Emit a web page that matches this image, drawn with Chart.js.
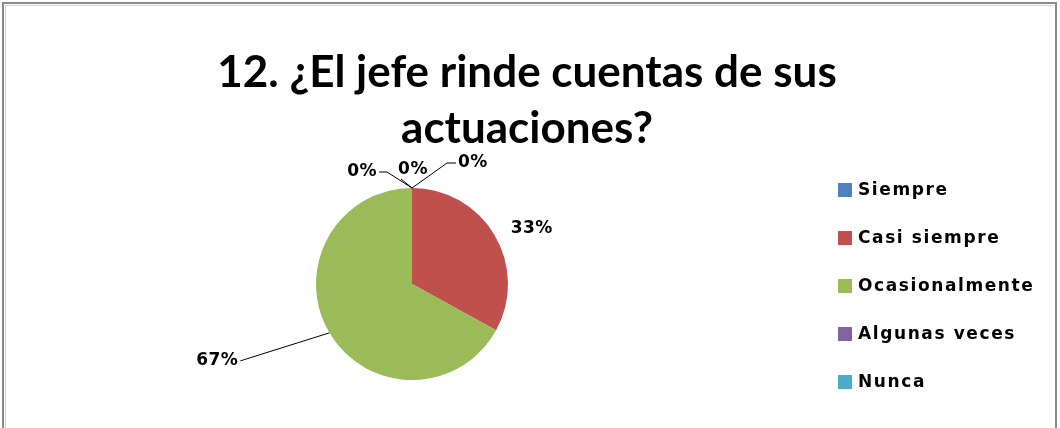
<!DOCTYPE html>
<html lang="es">
<head>
  <meta charset="UTF-8">
  <title>Rendición de cuentas</title>
  <script src="https://cdn.jsdelivr.net/npm/chart.js@4.4.1/dist/chart.umd.min.js"></script>
  <style>
    html, body { margin: 0; padding: 0; background: #fff; }
    canvas { display: block; }
  </style>
</head>
<body>
  <canvas id="pieChart" width="1060" height="428"></canvas>

  <script>
    // data
    const categories = ['Siempre', 'Casi siempre', 'Ocasionalmente', 'Algunas veces', 'Nunca'];
    const percents = [0, 33, 67, 0, 0];
    const sliceColors = ['#4F81BD', '#C0504D', '#9BBB59', '#8064A2', '#4BACC6'];
    const titleLines = ['12. ¿El jefe rinde cuentas de sus', 'actuaciones?'];

    // where each % label sits, relative to the point on the pie edge at the slice middle
    // [dx, dy, align, leader elbow dx, leader elbow dy]  (elbow relative to label point)
    const labelOffsets = [
      [44, -25, 'left', -9, 0],      // Siempre 0%
      [14, -7, 'left', null, null],  // Casi siempre
      [-89, 28, 'right', 0, 0],      // Ocasionalmente
      [-33, -16, 'right', 8, 0],     // Algunas veces 0%
      [1, -18, 'center', -12, 9]     // Nunca 0%
    ];

    const frame = {
      id: 'frame',
      beforeDraw(chart) {
        const { ctx } = chart;
        ctx.save();
        ctx.strokeStyle = '#8a8a8a';
        ctx.lineWidth = 2;
        ctx.beginPath();
        ctx.moveTo(3, 428);
        ctx.lineTo(3, 3);
        ctx.lineTo(1056, 3);
        ctx.lineTo(1056, 428);
        ctx.stroke();
        ctx.strokeStyle = '#d4d4d4';
        ctx.lineWidth = 1;
        ctx.beginPath();
        ctx.moveTo(5.5, 428);
        ctx.lineTo(5.5, 5.5);
        ctx.lineTo(1054, 5.5);
        ctx.stroke();

        // title
        ctx.fillStyle = '#000';
        ctx.font = 'bold 44px Lato';
        ctx.textAlign = 'center';
        ctx.textBaseline = 'alphabetic';
        ctx.fillText(titleLines[0], 527, 87);
        ctx.fillText(titleLines[1], 527, 143);
        ctx.restore();
      }
    };

    const sliceLabels = {
      id: 'sliceLabels',
      afterDatasetsDraw(chart) {
        const { ctx } = chart;
        const meta = chart.getDatasetMeta(0);
        ctx.save();
        ctx.font = 'bold 17px "DejaVu Sans"';
        ctx.letterSpacing = '0.5px';
        ctx.fillStyle = '#000';
        ctx.strokeStyle = '#000';
        ctx.lineWidth = 1;
        ctx.textBaseline = 'middle';
        meta.data.forEach((arc, i) => {
          const mid = (arc.startAngle + arc.endAngle) / 2;
          const ax = arc.x + Math.cos(mid) * arc.outerRadius;
          const ay = arc.y + Math.sin(mid) * arc.outerRadius;
          const [dx, dy, align, ex, ey] = labelOffsets[i];
          const lx = ax + dx;
          const ly = ay + dy;
          if (ex !== null) {
            ctx.beginPath();
            ctx.moveTo(ax, ay);
            ctx.lineTo(lx + ex, ly + ey);
            if (align !== 'center') ctx.lineTo(lx, ly);
            ctx.stroke();
          }
          ctx.textAlign = align;
          const tx = align === 'right' ? lx - 2 : align === 'left' ? lx + 2 : lx;
          ctx.fillText(percents[i] + '%', tx, ly);
        });
        ctx.restore();
      }
    };

    const sideLegend = {
      id: 'sideLegend',
      afterDraw(chart) {
        const { ctx } = chart;
        ctx.save();
        ctx.font = 'bold 17px "DejaVu Sans"';
        ctx.letterSpacing = '1.6px';
        ctx.textBaseline = 'middle';
        ctx.textAlign = 'left';
        categories.forEach((name, i) => {
          const y = 190 + i * 48;
          ctx.fillStyle = sliceColors[i];
          ctx.fillRect(838, y - 7, 14, 14);
          ctx.fillStyle = '#000';
          ctx.fillText(name, 858, y + 1);
        });
        ctx.restore();
      }
    };

    new Chart(document.getElementById('pieChart'), {
      type: 'pie',
      data: {
        labels: categories,
        datasets: [{
          data: percents,
          backgroundColor: sliceColors,
          borderWidth: 0
        }]
      },
      options: {
        responsive: false,
        animation: false,
        layout: {
          padding: { left: 316, right: 552, top: 188, bottom: 48 }
        },
        plugins: {
          legend: { display: false },
          tooltip: { enabled: false }
        }
      },
      plugins: [frame, sliceLabels, sideLegend]
    });
  </script>
</body>
</html>
